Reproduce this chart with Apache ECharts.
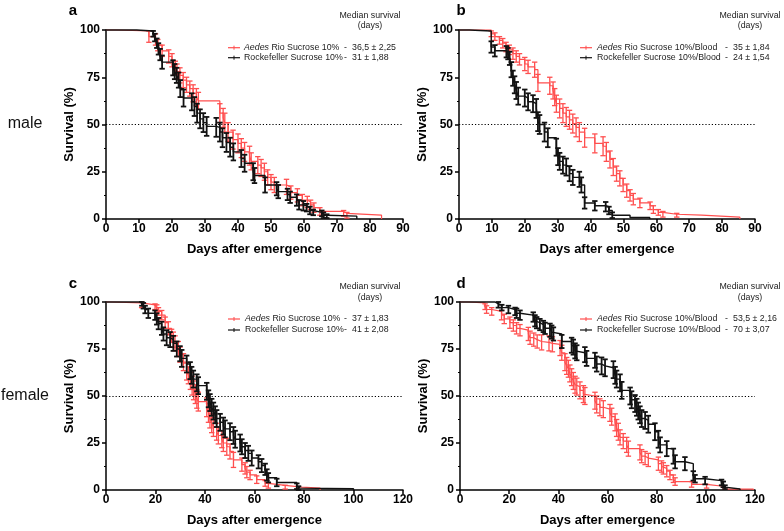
<!DOCTYPE html>
<html><head><meta charset="utf-8">
<script src="https://cdn.jsdelivr.net/npm/echarts@6/dist/echarts.min.js"></script>
<style>html,body{margin:0;padding:0;background:#fff}#c{width:784px;height:531px}</style>
</head><body><div id="c"></div>
<script>
// ---------- DATA ----------
// Panel a (male, sucrose)
const aRedDays = [0,3,13,15,15.7,17,19,20,21,21.5,22.4,23.4,24.4,25.4,26.4,27.4,28,34.5,35.5,36,37,38.5,40,41,42,43.5,44,46,47,48,49,50,51,54.7,56,58,59.5,61,62,63,64.8,72,73,83.5];
const aRedSurv = [100,99.5,96.5,95,92,89,86,84,80,78,76,73.5,71,69,66.5,64.5,62.5,56,53.5,51,46,42,40,37.5,35.5,33.5,30.5,28.5,27,25,22,19.5,18,17,14,12.5,10,9,7.5,6,4,3,2,0];
const aRedErr  = [0,0,3,3,3,3,3.5,3.5,3.5,4,4,4,4,4,4.5,4.5,4.5,5,5,5,5,5,5,5,5,5,4.5,4.5,4.5,4.5,4,4,4,4,3.5,3.5,3,3,2.5,2.5,2,1.5,1.5,0];
const aBlkDays = [0,9.3,14.3,14.8,15.4,15.9,16.4,17,20.3,20.8,21.4,22,22.5,23.5,26,26.8,27.6,28.5,29.5,30.5,33.4,34.5,35.3,36.5,37.6,38.6,41,42,44.6,45,48.2,51.7,52.2,55,55.8,57.8,58.5,59.8,60.8,61.8,62.8,65.4,65.9,66.9,76];
const aBlkSurv = [100,99.5,98,96,93,90,87,83,80,78,76,73.5,69,64,62,59.5,56,53,51,49,48.5,46,43,40.5,38,35.5,32,29.5,25,23,18,16,14.5,13,11.5,10,7.5,7,6,4.5,3.5,3,2,1.5,0];
const aBlkErr  = [0,0,1.5,2,2.5,3,3,3.5,4,4,4,4,4.5,4.5,4.5,5,5,5,5,5,5,5,5,5,5,4.5,4.5,4.5,4.5,4,4,3.5,3.5,3,3,3,2.5,2.5,2,2,1.5,1.5,1.5,1,0];
// Panel b (male, sucrose/blood)
const bRedDays = [0,9.8,10.9,12.3,13.3,14.3,15.3,16.4,17.4,18.4,20,21,23,24,27.6,28.6,29.1,29.6,30.6,31.6,32.6,33.6,34.6,35.6,36.6,38.2,41.3,43.8,44.8,45.9,46.9,47.9,48.9,49.9,51,52,53,55,58.1,59.1,60.6,62,66.2,73.8,85.4];
const bRedSurv = [100,98,96.5,94.5,93,91,89.5,87.5,86,84.5,82,80.5,79,72,70.5,68,64.5,61,58.5,56,54,52.5,50.5,48.5,46,43,40,38.5,35.5,31.5,27.5,24,21.5,18,15,12.5,10.5,8.5,7,5,3.5,2.5,2,1,0];
const bRedErr  = [0,1.5,2,2,2.5,2.5,2.5,3,3,3,3.5,3.5,4,4.5,4.5,4.5,4.5,4.5,5,5,5,5,5,5,5,5,5,5,5,4.5,4.5,4,4,3.5,3.5,3,3,2.5,2,2,1.5,1.5,1,0,0];
const bBlkDays = [0,3.2,9.8,10.9,14.4,14.9,15.4,15.9,16.4,16.9,17.4,18,20,21,22.5,23.5,24,24.5,26,27,29.6,30.1,30.6,31.6,32.6,33.6,34.6,36.6,37.2,38.2,41.3,44.6,45.6,46.6,52,58];
const bBlkSurv = [100,99.5,91,89,88.5,87.5,85,79,74.5,71,68,65,64,62,61,58.5,51.5,50,46,43,38,33,30.5,28.5,27.5,24,22,21,18,8.5,7,6.5,4.5,2,0.8,0];
const bBlkErr  = [0,0,3,3,3,3,3.5,4,4,4.5,4.5,4.5,4.5,4.5,4.5,5,5,5,5,5,4.5,4.5,4.5,4.5,4.5,4,4,4,4,3,2.5,2.5,2,1.5,0,0];
// Panel c (female, sucrose)
const cRedDays = [0,2,14.4,19.8,20.5,21.2,22.5,23.9,25.2,26.5,27.2,27.9,29.2,29.9,31.3,32.6,33.3,34.1,34.8,35.4,36.1,36.7,37.3,40.7,41.4,42,42.7,43.4,44.7,45.4,46.8,47.4,48.8,50.1,51.5,54.9,56.2,56.9,58.2,60.9,64.3,65.6,72.4,79.1,86.5];
const cRedSurv = [100,99.5,98.5,97.5,96.5,95,93,89,86,82,80,78,75,72,68,63,61,58,55.5,53,51,48.5,47,44,41,38,35.5,33.5,31,29,27,25,23,20.5,16,13.5,11.5,9.5,8,5.5,3.5,2.5,1.5,1,0];
const cRedErr  = [0,0,1.5,1.5,2,2,2.5,3,3.5,3.5,4,4,4,4,4.5,4.5,4.5,4.5,5,5,5,5,5,5,5,5,5,5,4.5,4.5,4.5,4.5,4.5,4,4,3.5,3,3,2.5,2,1.5,1.5,1,0,0];
const cBlkDays = [0,14.5,15.1,15.8,17.1,19.8,20.5,21.2,22.5,23.2,24.5,25.9,27.2,28.6,29.9,30.6,32.6,34,34.6,35.3,36.7,37.3,40.7,41.4,42,42.7,43.4,44.1,44.7,46.1,47.4,48.1,50.1,51.5,52.2,54.2,54.9,56.2,57.5,58.9,61.6,62.9,64.3,65,65.6,69,77.1,77.8,78.4,100];
const cBlkSurv = [100,99,98,96,94,93,91,88.5,86,83,81,80,78,75,72.5,70,67,63.5,61,59,57,55.5,52.5,48.5,46.5,44,42,40,38,36,34,32.5,31,29,27,25,23,21,19.5,17,15,13,11,8,6.5,4,2,1,0.7,0];
const cBlkErr  = [0,1,1.5,2,2.5,2.5,3,3,3.5,3.5,4,4,4,4,4,4.5,4.5,4.5,4.5,4.5,4.5,4.5,4.5,4.5,4.5,4.5,4.5,4.5,4.5,4.5,4.5,4.5,4.5,4.5,4.5,4.5,4,4,4,4,3.5,3.5,3,3,2.5,2,1.5,1,0,0];
// Panel d (female, sucrose/blood)
const dRedDays = [0,3.4,10.2,10.8,12.9,16.9,18,20.3,21.7,23,24.4,27.8,28.5,30,31.4,33.2,36.2,37.6,40.7,41.4,42.7,43.4,44.1,44.7,45.4,46.1,46.8,47.5,48.8,50.2,50.8,54.9,55.6,56.9,58.3,61,61.7,63.1,63.7,64.4,65.1,66.4,67.8,68.5,73.2,73.9,75.3,76.6,80.7,82,82.7,84.1,85.4,86.8,87.5,94.2,100.3,107,119.3];
const dRedSurv = [100,99.5,97.5,96,95,93,91,89,87.5,86,85,83,81,80,79,78.5,78,77.5,75.5,73,68,66,64.5,62,60,58,56,55,53,51,50,47.5,45.5,44,43,41,39,36,33,31,28,26,24,22,20,18,17,16,14,12.5,11.5,10,8,6,4.5,3,2,0.5,0];
const dRedErr  = [0,0,1.5,2,2,2.5,2.5,3,3,3,3,3.5,3.5,3.5,3.5,4,4,4,4,4,4.5,4.5,4.5,4.5,4.5,4.5,4.5,4.5,4.5,4.5,4.5,4.5,4.5,4.5,4.5,4.5,4.5,4.5,4.5,4.5,4,4,4,4,4,3.5,3.5,3.5,3.5,3,3,3,2.5,2,2,1.5,1,0,0];
const dBlkDays = [0,14.2,15.6,17,19.7,22.4,23,24.4,29.8,30.5,31.2,32.5,33.9,34.6,36.6,37.3,38,41.4,45.4,46.1,46.8,47.5,50.8,51.5,54.9,55.6,57.6,59,62.4,63.1,63.7,65.1,65.8,69.2,69.8,71.2,71.9,72.5,73.2,73.9,75.3,76.6,79.3,80.7,81.4,84.1,86.8,87.5,91.5,94.9,95.6,99.7,106.4,107.1,107.8,108.5,113.9];
const dBlkSurv = [100,99,98.5,97,96,95,94,93,92,90,89,88,87,86,85,84,83,79,77,76,74,73,72,70,69,67,66,65,64,61,59,57,53,50,48,46,44,42,40,38,37,35,31,27,24,22,18,15,14,7.5,6,5,4,3,1.5,0.5,0];
const dBlkErr  = [0,0,1.5,1.5,2,2,2.5,2.5,2.5,3,3,3,3,3,3.5,3.5,3.5,3.5,4,4,4,4,4,4,4,4,4.5,4.5,4.5,4.5,4.5,4.5,4.5,4.5,4.5,4.5,4.5,4.5,4.5,4.5,4.5,4.5,4.5,4.5,4,4,4,3.5,3.5,2.5,2,2,1.5,1.5,1,0,0];

const panelLetters = ['a','b','c','d'];
const redNames = ['Rio Sucrose 10%','Rio Sucrose 10%/Blood','Rio Sucrose 10%','Rio Sucrose 10%/Blood'];
const blkNames = ['Rockefeller Sucrose 10%','Rockefeller Sucrose 10%/Blood','Rockefeller Sucrose 10%','Rockefeller Sucrose 10%/Blood'];
const redMedians = ['36,5 ± 2,25','35 ± 1,84','37 ± 1,83','53,5 ± 2,16'];
const blkMedians = ['31 ± 1,88','24 ± 1,54','41 ± 2,08','70 ± 3,07'];
const xMaxes = [90,90,120,120];
const xIntervals = [10,10,20,20];
const yTicks = [0,25,50,75,100];
const rowLabels = ['male','female'];

// ---------- CHART ----------
const FONT = '"Liberation Sans", Arial, Helvetica, sans-serif';
const RED = '#ff4f4f', BLK = '#121212';
const grids = [
  {left:106, top:30, width:297, height:189},
  {left:459, top:30, width:296, height:189},
  {left:106, top:302, width:297, height:188},
  {left:460, top:302, width:295, height:188}
];
const curves = [
  [[aRedDays,aRedSurv,aRedErr],[aBlkDays,aBlkSurv,aBlkErr]],
  [[bRedDays,bRedSurv,bRedErr],[bBlkDays,bBlkSurv,bBlkErr]],
  [[cRedDays,cRedSurv,cRedErr],[cBlkDays,cBlkSurv,cBlkErr]],
  [[dRedDays,dRedSurv,dRedErr],[dBlkDays,dBlkSurv,dBlkErr]]
];

const xAxis = [], yAxis = [], series = [];
grids.forEach((g, i) => {
  xAxis.push({
    gridIndex:i, type:'value', min:0, max:xMaxes[i], interval:xIntervals[i],
    axisLine:{show:true, onZero:false, lineStyle:{color:'#000', width:1.5}},
    axisTick:{show:true, length:4, lineStyle:{color:'#000', width:1.5}},
    axisLabel:{color:'#000', fontSize:12, fontWeight:'bold', fontFamily:FONT, margin:4},
    splitLine:{show:false},
    name:'Days after emergence', nameLocation:'middle', nameGap:24,
    nameTextStyle:{color:'#000', fontSize:13, fontWeight:'bold', fontFamily:FONT}
  });
  yAxis.push({
    gridIndex:i, type:'value', min:yTicks[0], max:yTicks[yTicks.length-1], interval:25,
    axisLine:{show:true, lineStyle:{color:'#000', width:1.5}},
    axisTick:{show:true, length:4, lineStyle:{color:'#000', width:1.5}},
    minorTick:{show:true, splitNumber:2, length:2, lineStyle:{color:'#000', width:1}},
    axisLabel:{color:'#000', fontSize:12, fontWeight:'bold', fontFamily:FONT, margin:6},
    splitLine:{show:false},
    name:'Survival (%)', nameLocation:'middle', nameGap:27, nameRotate:90,
    nameTextStyle:{color:'#000', fontSize:13, fontWeight:'bold', fontFamily:FONT}
  });
  const cols = [RED, BLK], lws = [1.2, 1.4], bws = [1.3, 1.8];
  curves[i].forEach((c, k) => {
    const [days, surv, err] = c;
    const color = cols[k];
    const s = {
      type:'line', xAxisIndex:i, yAxisIndex:i, step:'end', showSymbol:false, symbol:'none',
      data: days.map((d, j) => [d, surv[j]]),
      lineStyle:{color:color, width:lws[k]}, animation:false, silent:true, z: 3 + k*2, clip:false
    };
    if (k === 1) {
      s.markLine = {silent:true, symbol:'none', label:{show:false},
        lineStyle:{color:'#000', width:1.1, type:[1.2,2]},
        data:[[{coord:[0,50]},{coord:[xMaxes[i],50]}]]};
    }
    series.push(s);
    const bw = bws[k];
    series.push({
      type:'custom', xAxisIndex:i, yAxisIndex:i, animation:false, silent:true, z: 4 + k*2,
      data: days.map((d, j) => [d, surv[j], err[j]]).filter(r => r[2] > 0),
      encode:{x:0, y:1},
      renderItem: (params, api) => {
        const x = api.value(0), y = api.value(1), e = api.value(2);
        const p1 = api.coord([x, y + e]), p2 = api.coord([x, y - e]);
        const w = 2.7;
        const st = {stroke:color, lineWidth:bw};
        return {type:'group', children:[
          {type:'line', shape:{x1:p1[0], y1:p1[1], x2:p2[0], y2:p2[1]}, style:st},
          {type:'line', shape:{x1:p1[0]-w, y1:p1[1], x2:p1[0]+w, y2:p1[1]}, style:st},
          {type:'line', shape:{x1:p2[0]-w, y1:p2[1], x2:p2[0]+w, y2:p2[1]}, style:st}
        ]};
      }
    });
  });
});

// ---------- TEXT / LEGENDS ----------
const graphic = [];
function txt(x, y, text, opt) {
  const o = Object.assign({fontSize:8.8, fontFamily:FONT, fill:'#222', align:'left', verticalAlign:'middle', fontWeight:'normal'}, opt || {});
  graphic.push({type:'text', x:x, y:y, silent:true, style:{
    text:text, fontSize:o.fontSize, fontFamily:o.fontFamily, fontWeight:o.fontWeight, fill:o.fill,
    align:o.align, verticalAlign:o.verticalAlign, textAlign:o.align, textVerticalAlign:o.verticalAlign,
    rich:o.rich
  }});
}
function glyph(x, y, color) {
  graphic.push({type:'line', silent:true, shape:{x1:x, y1:y, x2:x+12, y2:y}, style:{stroke:color, lineWidth:1.2}});
  graphic.push({type:'line', silent:true, shape:{x1:x+6, y1:y-2, x2:x+6, y2:y+2}, style:{stroke:color, lineWidth:1}});
}
const legendPos = [
  {lx:228, tx:244, dx:344, vx:352, r1:47.7, r2:57.7, mx:370, my:15.5, dy:26},
  {lx:580, tx:597, dx:725, vx:733, r1:47.7, r2:57.7, mx:750, my:15.5, dy:26},
  {lx:228, tx:245, dx:344, vx:352, r1:319, r2:330, mx:370, my:286.5, dy:298},
  {lx:580, tx:597, dx:725, vx:733, r1:319, r2:330, mx:750, my:286.5, dy:298}
];
legendPos.forEach((p, i) => {
  txt(p.mx, p.my, 'Median survival', {align:'center'});
  txt(p.mx, p.dy, '(days)', {align:'center'});
  glyph(p.lx, p.r1, RED);
  glyph(p.lx, p.r2, BLK);
  txt(p.tx, p.r1, '{i|Aedes} ' + redNames[i], {rich:{i:{fontStyle:'italic', fontSize:8.8, fontFamily:FONT, fill:'#222'}}});
  txt(p.tx, p.r2, blkNames[i]);
  txt(p.dx, p.r1, '-');
  txt(p.dx, p.r2, '-');
  txt(p.vx, p.r1, redMedians[i]);
  txt(p.vx, p.r2, blkMedians[i]);
});
const letterPos = [[73,11],[461,11],[73,284],[461,284]];
letterPos.forEach((p, i) => txt(p[0], p[1], panelLetters[i], {align:'center', fontSize:15, fontWeight:'bold', fill:'#000'}));
txt(25, 124, rowLabels[0], {align:'center', fontSize:16, fill:'#111'});
txt(25, 396, rowLabels[1], {align:'center', fontSize:16, fill:'#111'});

const chart = echarts.init(document.getElementById('c'), null, {renderer:'canvas'});
chart.setOption({
  animation:false, backgroundColor:'#fff',
  grid: grids.map(g => Object.assign({containLabel:false}, g)),
  xAxis, yAxis, series, graphic
});
</script>
</body></html>
